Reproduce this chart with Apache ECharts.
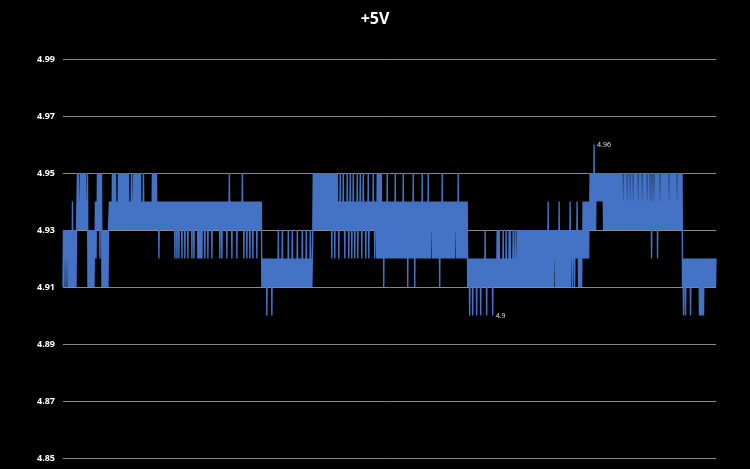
<!DOCTYPE html>
<html><head><meta charset="utf-8">
<script src="https://cdn.jsdelivr.net/npm/echarts@6/dist/echarts.min.js"></script>
<style>html,body{margin:0;padding:0;background:#000}#c{width:750px;height:469px}</style>
</head><body><div id="c"></div>
<script>
// voltage levels (V) the readings take
const levels = [4.90, 4.91, 4.92, 4.93, 4.94, 4.95, 4.96];
// y tick labels
const yTickLabels = ['4.85', '4.87', '4.89', '4.91', '4.93', '4.95', '4.97', '4.99'];
const yBase = 4.85;
// runs of reading pairs: [pairCount, lowLevel, highLevel]
const segments = [
  [14,1,3],[11,3,5],[7,1,3],[2,2,4],[5,3,5],[7,1,3],[153,3,4],[51,1,2],
  [24,3,5],[40,3,4],[91,2,4],[50,1,2],[65,1,3],[7,2,4],[7,3,5],[8,4,5],
  [78,3,5],[34,1,2]
];
// individual reading pairs that differ from their run: [pairIndex, lowLevel, highLevel]
const excursions = [
  [2,2,3],[4,2,3],[9,1,4],[16,3,4],[23,3,4],[37,2,5],
  [49,3,5],[50,3,5],[51,3,5],[52,3,5],
  [55,3,5],[56,3,5],[57,3,5],[58,3,5],[59,3,5],[60,3,5],[61,3,5],[62,3,5],[63,3,5],[64,3,5],[65,3,5],
  [68,3,5],[70,3,5],[71,3,5],[72,3,5],[73,3,5],[74,3,5],[75,3,5],[76,3,5],[77,3,5],[80,3,5],
  [89,3,5],[90,3,5],[91,3,5],[92,3,5],[93,3,5],[166,3,5],[179,3,5],
  [96,2,4],[112,2,4],[114,2,4],[116,2,4],[119,2,4],[122,2,4],[125,2,4],[129,2,4],[131,2,4],
  [135,2,4],[136,2,4],[137,2,4],[138,2,4],[139,2,4],[142,2,4],[145,2,4],[149,2,4],[157,2,4],
  [159,2,4],[164,2,4],[169,2,4],[174,2,4],[181,2,4],[184,2,4],[187,2,4],[190,2,4],[194,2,4],
  [204,0,2],[209,0,2],
  [215,1,3],[219,1,3],[225,1,3],[229,1,3],[234,1,3],[239,1,3],[243,1,3],[247,1,3],
  [269,2,5],[272,2,5],
  [274,3,5],[277,3,5],[280,3,5],[284,3,5],[287,3,5],[290,3,5],[294,3,5],[297,3,5],[300,3,5],[305,3,5],[310,3,5],
  [276,2,4],[282,2,4],[286,2,4],[289,2,4],[292,2,4],[295,2,4],[299,2,4],[303,2,4],[306,2,4],[312,2,4],
  [314,2,5],[315,2,5],[316,2,5],[317,2,5],[318,2,5],[324,2,5],[332,2,5],[340,2,5],[350,2,5],
  [359,2,5],[365,2,5],[379,2,5],[395,2,5],
  [321,1,4],[345,1,4],[352,1,4],[377,1,4],[369,3,4],[393,3,4],
  [407,0,2],[410,0,2],[414,0,2],[418,0,2],[424,0,2],[430,0,2],
  [422,1,3],[434,1,3],[435,1,3],[436,1,3],[440,1,3],[443,1,3],[446,1,3],[447,1,3],[450,1,3],[452,1,3],[454,1,3],
  [492,2,3],[509,2,3],[511,2,3],[513,2,3],[515,2,3],[485,1,4],[496,1,4],[507,1,4],[514,2,4],
  [531,3,6],[541,3,5],
  [560,3,4],[564,3,4],[567,3,4],[570,3,4],[575,3,4],[579,3,4],[584,3,4],[587,3,4],[591,3,4],
  [597,3,4],[606,3,4],[614,3,4],[589,2,4],[595,2,5],
  [621,0,2],[623,0,2],[628,0,2],[637,0,2],[638,0,2],[639,0,2],[640,0,2],[641,0,2]
];
// readings that carry a value label
const labelledReadings = [860, 1063];

const pairs = [];
segments.forEach(([n, lo, hi]) => { for (let i = 0; i < n; i++) pairs.push([lo, hi]); });
excursions.forEach(([k, lo, hi]) => { pairs[k] = [lo, hi]; });
const readings = [];
pairs.forEach(([lo, hi]) => { readings.push(levels[lo], levels[hi]); });

const toY = (v) => Math.round((v - yBase) * 100);
const seriesData = readings.map((v, i) => [i, toY(v)]);

const chart = echarts.init(document.getElementById('c'));
chart.setOption({
  backgroundColor: '#000',
  animation: false,
  title: {
    text: '+5V', left: 'center', top: 6,
    textStyle: { color: '#fff', fontSize: 16, fontWeight: 'bold', fontFamily: 'Open Sans' }
  },
  grid: { left: 63, right: 34, top: 59, bottom: 11 },
  xAxis: { type: 'value', min: 0, max: readings.length - 1, show: false },
  yAxis: {
    type: 'value', min: 0, max: 14, interval: 2,
    axisLine: { show: false }, axisTick: { show: false },
    axisLabel: {
      color: '#fff', fontSize: 9, fontWeight: 'bold', fontFamily: 'Open Sans', margin: 8,
      formatter: (v) => yTickLabels[Math.round(v / 2)]
    },
    splitLine: { lineStyle: { color: '#8a8a8a', width: 1 } }
  },
  series: [{
    type: 'line', data: seriesData, showSymbol: false, symbol: 'none',
    sampling: 'none', silent: true,
    lineStyle: { color: '#4472C4', width: 1.4 },
    itemStyle: { color: '#4472C4' },
    markPoint: {
      symbol: 'circle', symbolSize: 0, silent: true,
      label: {
        show: true, position: 'right', distance: 3, color: '#e0e0e0', fontSize: 7,
        fontFamily: 'Open Sans', formatter: (p) => String(p.value)
      },
      data: labelledReadings.map((i) => ({ coord: [i, toY(readings[i])], value: readings[i] }))
    }
  }]
});
</script></body></html>
